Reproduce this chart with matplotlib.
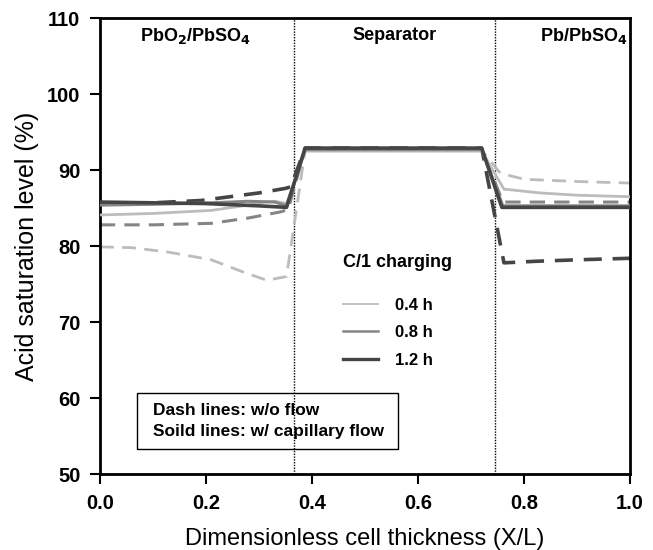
import matplotlib
matplotlib.use("Agg")
import matplotlib.pyplot as plt
from matplotlib.lines import Line2D
from matplotlib.patches import Rectangle

plt.rcParams['font.family'] = ['Liberation Sans', 'DejaVu Sans']

# region boundaries (dimensionless)
sep_left = 0.366
sep_right = 0.745

# solid lines: w/ capillary flow
x_s04 = [0.0, 0.10, 0.21, 0.28, 0.31, 0.33, 0.352, 0.387, 0.72, 0.762, 0.83, 0.90, 1.0]
y_s04 = [84.1, 84.3, 84.7, 85.4, 85.8, 85.9, 85.6, 92.5, 92.5, 87.5, 87.0, 86.7, 86.5]

x_s08 = [0.0, 0.10, 0.21, 0.28, 0.33, 0.352, 0.387, 0.72, 0.760, 1.0]
y_s08 = [85.4, 85.5, 85.7, 85.9, 85.8, 85.3, 92.7, 92.7, 85.3, 85.3]

x_s12 = [0.0, 0.10, 0.20, 0.30, 0.352, 0.387, 0.72, 0.758, 1.0]
y_s12 = [85.8, 85.7, 85.6, 85.3, 85.1, 92.9, 92.9, 85.1, 85.1]

# dash lines: w/o flow
x_d04 = [0.0, 0.06, 0.13, 0.21, 0.27, 0.315, 0.352, 0.387, 0.72, 0.755, 0.80, 0.90, 1.0]
y_d04 = [79.9, 79.8, 79.2, 78.2, 76.6, 75.5, 76.0, 92.6, 92.6, 89.6, 88.8, 88.5, 88.3]

x_d08 = [0.0, 0.10, 0.21, 0.28, 0.34, 0.355, 0.387, 0.72, 0.760, 1.0]
y_d08 = [82.8, 82.8, 83.0, 83.7, 84.5, 84.8, 92.8, 92.8, 85.8, 85.8]

x_d12 = [0.0, 0.10, 0.19, 0.30, 0.35, 0.36, 0.387, 0.72, 0.762, 0.82, 0.90, 1.0]
y_d12 = [85.6, 85.7, 86.0, 87.0, 87.6, 87.8, 92.9, 92.9, 77.8, 78.0, 78.2, 78.4]

labels = ["0.4 h", "0.8 h", "1.2 h"]
colors = ["#bcbcbc", "#858585", "#454545"]

fig = plt.figure(figsize=(6.53, 5.5), dpi=100)
ax = fig.add_axes([0.153, 0.138, 0.812, 0.829])

solid = [(x_s04, y_s04), (x_s08, y_s08), (x_s12, y_s12)]
dash = [(x_d04, y_d04), (x_d08, y_d08), (x_d12, y_d12)]
lws = [2.0, 2.2, 2.6]
for (xs, ys), c, lw in zip(dash, colors, lws):
    ax.plot(xs, ys, color=c, lw=lw, dashes=(5, 3), zorder=2)
for (xs, ys), c, lw in zip(solid, colors, lws):
    ax.plot(xs, ys, color=c, lw=lw, zorder=3)

ax.axvline(sep_left, color="black", lw=1, ls=(0, (1, 1)), zorder=1)
ax.axvline(sep_right, color="black", lw=1, ls=(0, (1, 1)), zorder=1)

ax.set_xlim(0, 1)
ax.set_ylim(50, 110)
ax.set_xticks([0.0, 0.2, 0.4, 0.6, 0.8, 1.0])
ax.set_yticks(range(50, 111, 10))
ax.tick_params(direction="out", length=7, width=1.5, labelsize=14.5, pad=7)
for lab in ax.get_xticklabels() + ax.get_yticklabels():
    lab.set_fontweight("bold")
for sp in ax.spines.values():
    sp.set_linewidth(2)

ax.set_xlabel("Dimensionless cell thickness (X/L)", fontsize=17, labelpad=11)
ax.set_ylabel("Acid saturation level (%)", fontsize=18, labelpad=6)

ax.text(0.18, 107.7, r"PbO$_\mathbf{2}$/PbSO$_\mathbf{4}$", ha="center", va="center",
        fontsize=13, fontweight="bold")
ax.text(0.555, 107.7, "Separator", ha="center", va="center", fontsize=13, fontweight="bold")
ax.text(0.912, 107.7, r"Pb/PbSO$_\mathbf{4}$", ha="center", va="center",
        fontsize=13, fontweight="bold")

handles = [Line2D([0], [0], color=c, lw=lw) for c, lw in zip(colors, [1.3, 1.8, 2.4])]
leg = ax.legend(handles, labels, title="C/1 charging", loc="upper left",
                bbox_to_anchor=(0.43, 0.515), frameon=False, handlelength=2.1,
                handletextpad=1.0, labelspacing=0.75, alignment="left",
                prop={"size": 12, "weight": "bold"},
                title_fontproperties={"size": 13, "weight": "bold"})
leg._legend_box.sep = 19

ax.add_patch(Rectangle((0.07, 53.3), 0.492, 7.4, fill=False, ec="black", lw=1, zorder=4))
ax.text(0.10, 58.4, "Dash lines: w/o flow", ha="left", va="center",
        fontsize=12.5, fontweight="bold", zorder=5)
ax.text(0.10, 55.6, "Soild lines: w/ capillary flow", ha="left", va="center",
        fontsize=12.5, fontweight="bold", zorder=5)

fig.savefig("out.png", dpi=100)
